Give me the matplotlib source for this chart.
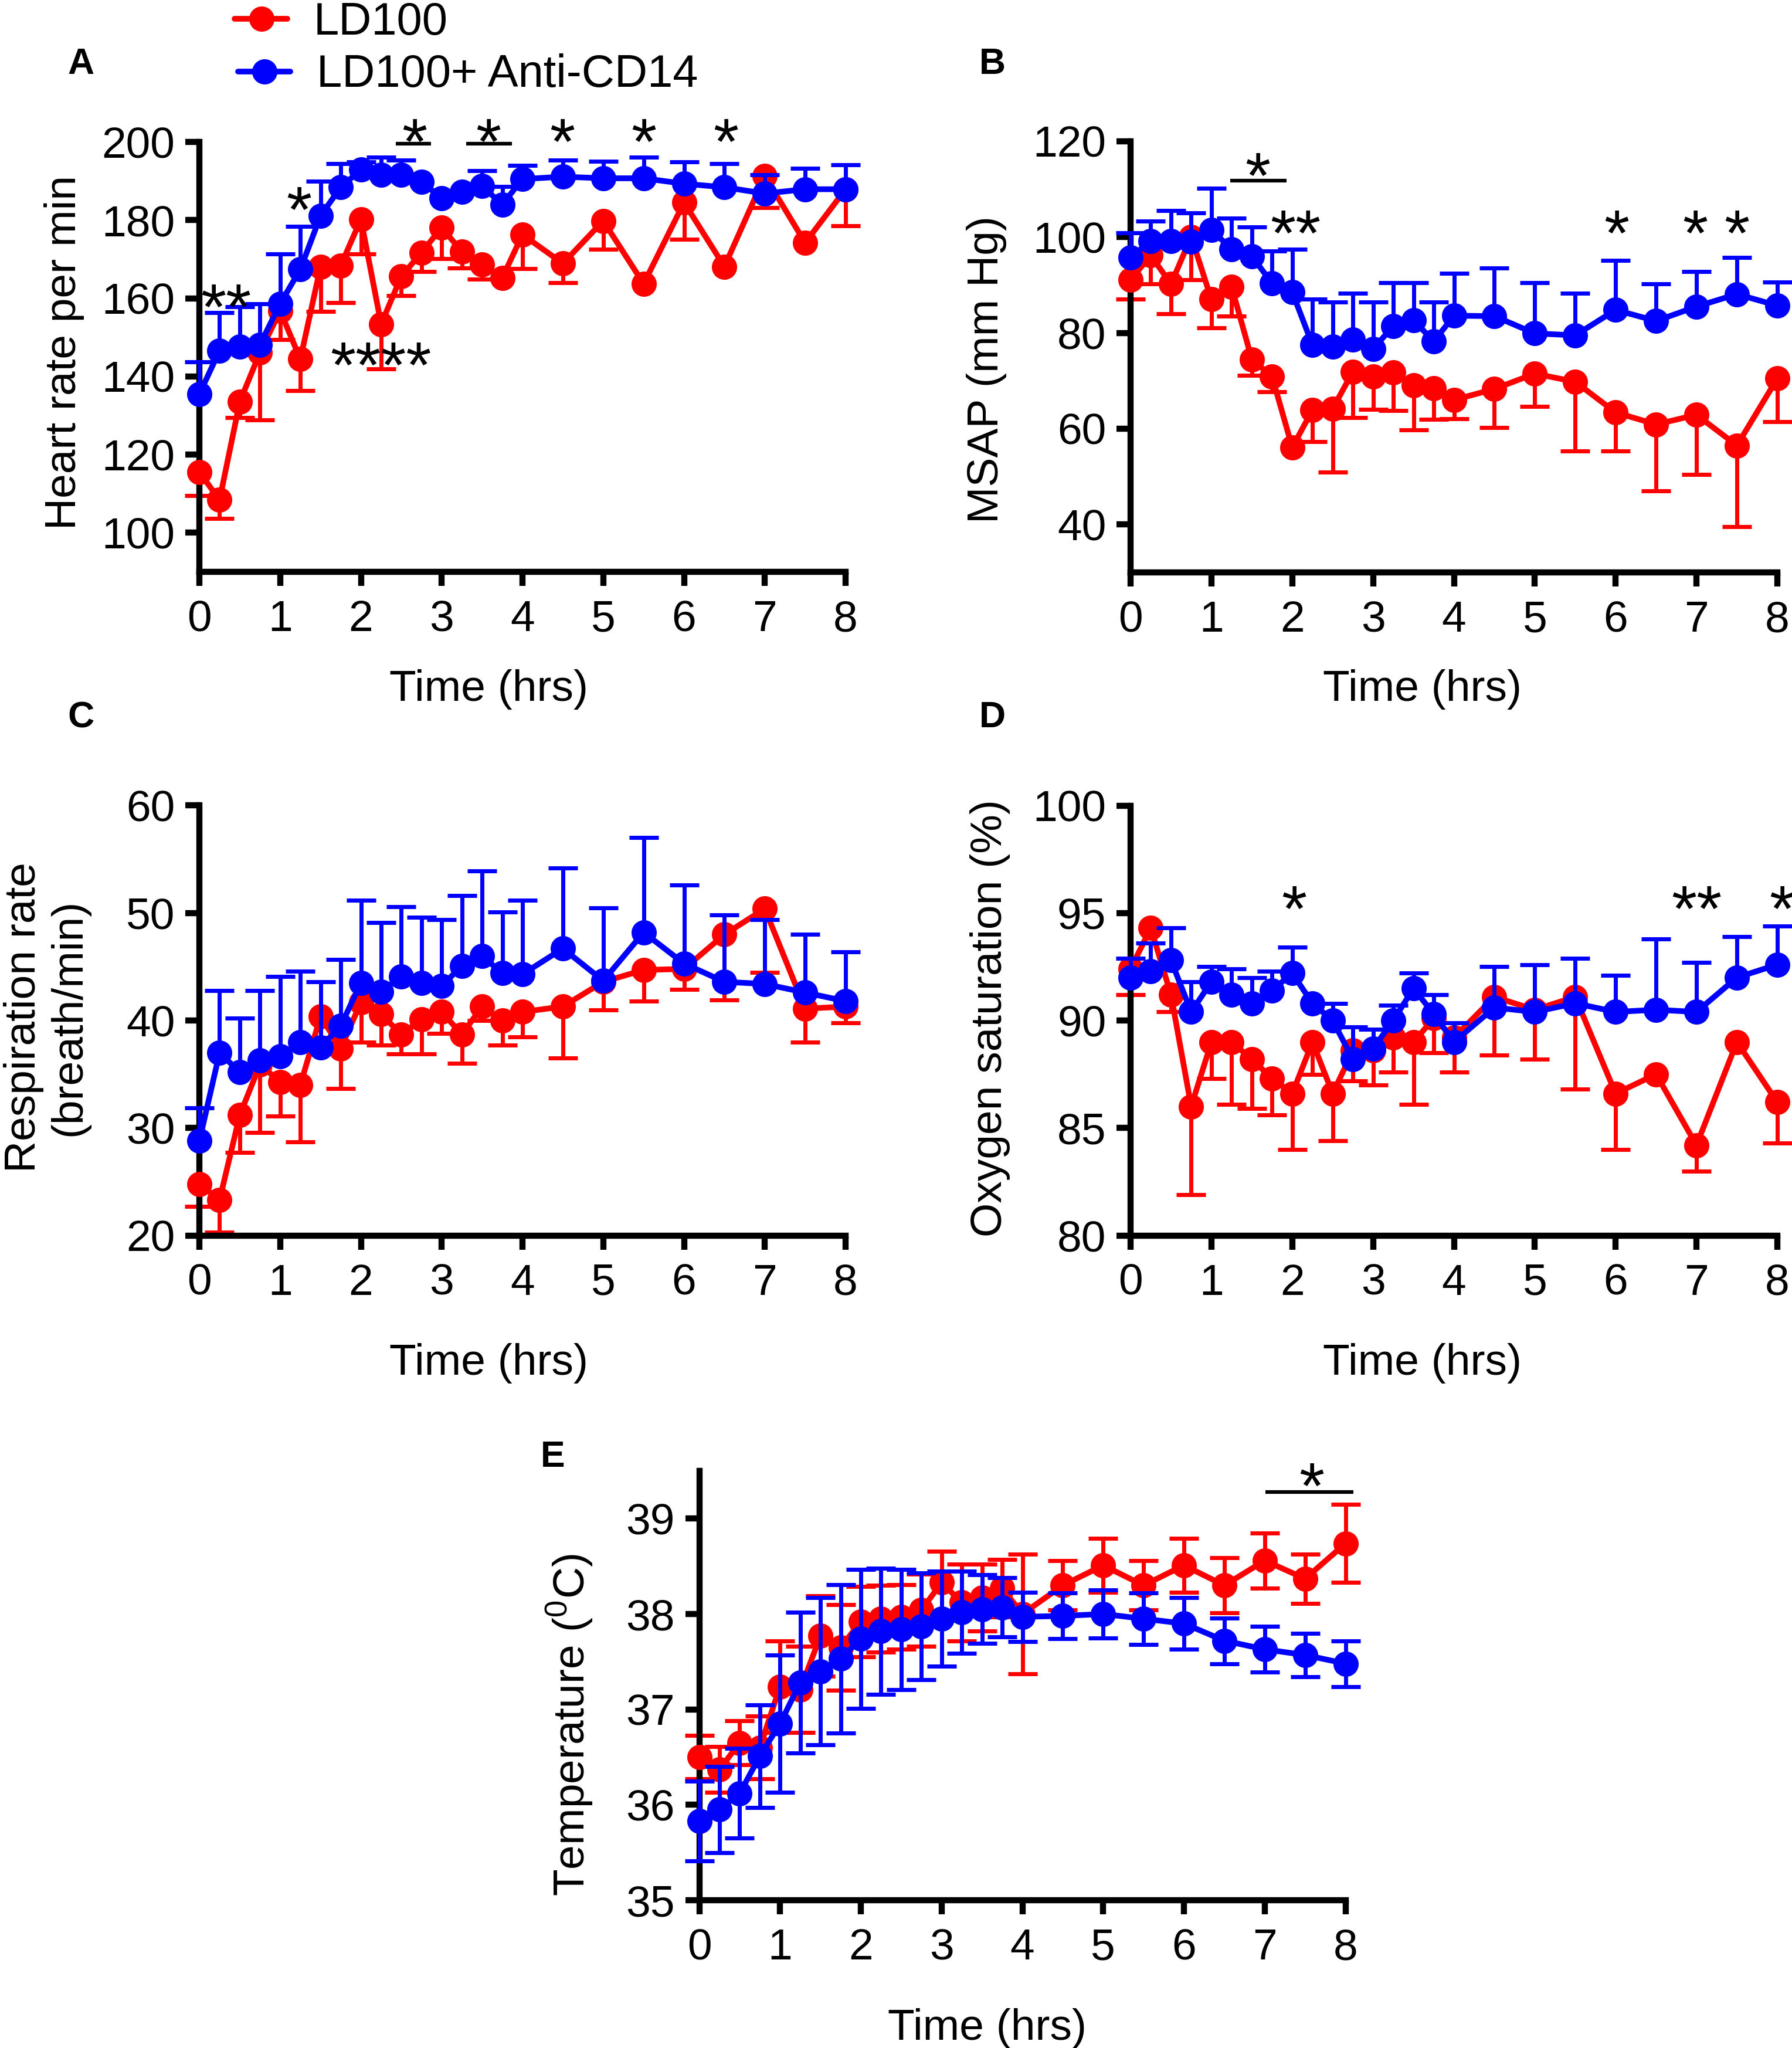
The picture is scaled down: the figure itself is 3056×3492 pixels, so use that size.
import numpy as np
import matplotlib
matplotlib.use("Agg")
import matplotlib.pyplot as plt
from matplotlib.lines import Line2D

plt.rcParams['font.family'] = ['Liberation Sans', 'DejaVu Sans']
plt.rcParams['mathtext.fontset'] = 'custom'
plt.rcParams['mathtext.rm'] = 'Liberation Sans'

# ---------------- data ----------------
time_h = [0, 0.25, 0.5, 0.75, 1, 1.25, 1.5, 1.75, 2, 2.25, 2.5, 2.75, 3, 3.25,
          3.5, 3.75, 4, 4.5, 5, 5.5, 6, 6.5, 7, 7.5, 8]

# A: heart rate per min
hr_ld100 = [115.5, 108.4, 133.5, 146.1, 156.8, 144.4, 168.1, 168.4, 180.2, 153.4, 165.6, 171.7, 178.1,
            171.9, 168.6, 165.2, 176.3, 168.9, 179.8, 163.7, 184.5, 168.1, 191.3, 174.2, 187.9]
hr_ld100_err = [6.0, 4.7, 4.0, 17.2, 7.3, 8.1, 11.5, 9.5, 8.8, 11.5, 4.9, 4.9, 7.9,
                4.2, 3.7, 0.0, 8.7, 4.9, 7.3, 0.0, 9.4, 0.0, 8.1, 0.0, 9.3]
hr_cd14 = [135.5, 146.6, 147.6, 148.1, 158.6, 167.4, 181.1, 188.4, 192.9, 191.6, 191.6, 189.8, 185.6,
           187.2, 188.7, 184.0, 190.5, 191.1, 190.7, 190.7, 189.3, 188.4, 186.8, 187.9, 187.9]
hr_cd14_err = [8.2, 9.7, 10.3, 10.5, 12.7, 11.0, 8.9, 6.0, 2.0, 4.5, 3.7, 0.0, 0.0,
               0.0, 3.9, 4.6, 3.5, 4.2, 4.4, 5.4, 5.6, 6.0, 4.8, 5.3, 6.3]

# B: MSAP (mm Hg)
msap_ld100 = [91.1, 96.2, 90.2, 100.1, 87.0, 89.6, 74.5, 70.9, 56.1, 63.9, 64.2, 71.9, 70.9,
              71.8, 69.0, 68.5, 66.0, 68.3, 71.5, 69.8, 63.4, 60.9, 62.9, 56.5, 70.5]
msap_ld100_err = [4.1, 6.0, 6.2, 9.0, 6.0, 6.1, 3.3, 3.2, 0.0, 6.6, 13.3, 9.6, 6.9,
                  8.0, 9.3, 6.6, 3.9, 8.1, 6.9, 14.5, 8.1, 13.9, 12.4, 16.9, 9.0]
msap_cd14 = [95.8, 99.2, 99.2, 99.0, 101.5, 97.5, 96.0, 90.4, 88.5, 77.5, 77.2, 78.6, 76.7,
             81.4, 82.7, 78.2, 83.6, 83.5, 79.9, 79.5, 84.8, 82.5, 85.5, 88.1, 85.7]
msap_cd14_err = [5.1, 4.1, 6.3, 6.0, 8.7, 6.5, 6.1, 6.7, 9.0, 9.5, 9.2, 9.7, 9.8,
                 9.1, 7.8, 8.2, 8.8, 10.1, 10.6, 8.8, 10.3, 7.7, 7.3, 7.7, 4.9]

# C: respiration rate (breath/min)
resp_ld100 = [24.8, 23.3, 31.2, 35.9, 34.3, 34.0, 40.4, 37.4, 41.7, 40.6, 38.7, 40.1, 40.8,
              38.7, 41.3, 40.0, 40.8, 41.3, 43.6, 44.7, 44.8, 48.0, 50.4, 41.1, 41.3]
resp_ld100_err = [2.1, 3.0, 3.5, 6.3, 3.2, 5.3, 2.0, 3.7, 3.7, 2.9, 1.8, 3.2, 2.0,
                  2.7, 1.3, 2.3, 2.3, 4.8, 2.6, 2.9, 1.9, 6.1, 5.9, 3.1, 1.5]
resp_cd14 = [28.8, 37.0, 35.2, 36.3, 36.7, 38.0, 37.5, 39.5, 43.5, 42.7, 44.1, 43.5, 43.2,
             45.1, 46.0, 44.4, 44.3, 46.7, 43.7, 48.2, 45.3, 43.6, 43.4, 42.6, 41.8]
resp_cd14_err = [3.1, 5.8, 5.0, 6.5, 7.4, 6.6, 6.1, 6.2, 7.7, 6.4, 6.5, 6.1, 6.2,
                 6.5, 7.9, 5.7, 6.9, 7.5, 6.8, 8.8, 7.3, 6.2, 6.0, 5.4, 4.6]

# D: oxygen saturation (%)
o2_ld100 = [92.4, 94.3, 91.2, 86.0, 89.0, 89.0, 88.2, 87.3, 86.6, 89.0, 86.6, 88.6, 88.6,
            89.2, 89.0, 90.1, 89.2, 91.1, 90.5, 91.1, 86.6, 87.5, 84.2, 89.0, 86.2]
o2_ld100_err = [1.2, 0.0, 0.8, 4.1, 1.7, 2.9, 2.3, 1.7, 2.6, 1.5, 2.2, 1.4, 1.6,
                1.6, 2.9, 1.6, 1.6, 2.7, 2.3, 4.3, 2.6, 0.0, 1.2, 0.0, 1.9]
o2_cd14 = [92.0, 92.3, 92.8, 90.4, 91.8, 91.2, 90.8, 91.4, 92.2, 90.8, 90.0, 88.2, 88.7,
           90.0, 91.5, 90.3, 89.0, 90.6, 90.4, 90.8, 90.4, 90.5, 90.4, 92.0, 92.6]
o2_cd14_err = [0.9, 1.3, 1.5, 1.4, 0.7, 1.2, 1.2, 0.9, 1.2, 0.0, 0.8, 1.5, 0.9,
               0.7, 0.7, 0.9, 0.9, 1.9, 2.2, 2.1, 1.7, 3.3, 2.3, 1.9, 1.8]

# E: temperature (C)
temp_ld100 = [36.50, 36.37, 36.65, 36.60, 37.24, 37.21, 37.77, 37.65, 37.92, 37.95, 37.97, 38.04, 38.33,
              38.12, 38.17, 38.27, 38.00, 38.30, 38.51, 38.30, 38.51, 38.30, 38.56, 38.37, 38.74]
temp_ld100_err = [0.23, 0.24, 0.23, 0.33, 0.48, 0.45, 0.42, 0.45, 0.37, 0.35, 0.34, 0.38, 0.33,
                  0.40, 0.35, 0.30, 0.63, 0.26, 0.28, 0.26, 0.28, 0.29, 0.29, 0.26, 0.41]
temp_cd14 = [35.83, 35.95, 36.12, 36.51, 36.85, 37.28, 37.40, 37.53, 37.74, 37.82, 37.84, 37.87, 37.95,
             38.02, 38.05, 38.07, 37.97, 37.98, 38.00, 37.95, 37.90, 37.72, 37.63, 37.57, 37.48]
temp_cd14_err = [0.42, 0.45, 0.47, 0.54, 0.72, 0.74, 0.77, 0.78, 0.73, 0.66, 0.63, 0.56, 0.50,
                 0.43, 0.36, 0.31, 0.26, 0.24, 0.25, 0.27, 0.27, 0.24, 0.24, 0.23, 0.24]

series_labels = ['LD100', 'LD100+ Anti-CD14']
x_ticks = [0, 1, 2, 3, 4, 5, 6, 7, 8]

# significance annotations: (time, value, text)
sig_A = [(0.33, 161.6, '**'), (1.23, 186.5, '*'), (2.25, 146.7, '****'), (2.66, 203.9, '*'),
         (3.58, 203.9, '*'), (4.49, 203.9, '*'), (5.5, 203.9, '*'), (6.52, 203.9, '*')]
bars_A = [(2.43, 2.87, 199.5), (3.3, 3.87, 199.5)]
sig_B = [(1.57, 116.0, '*'), (2.04, 104.0, '**'), (6.01, 104.0, '*'), (6.98, 104.0, '*'), (7.5, 104.0, '*')]
bars_B = [(1.23, 1.93, 111.8)]
sig_D = [(2.02, 95.9, '*'), (7.0, 95.9, '**'), (8.06, 95.9, '*')]
sig_E = [(7.58, 39.5, '*')]
bars_E = [(7.01, 8.1, 39.28)]

# ---------------- style ----------------
RED = '#FF0000'
BLUE = '#0000FF'
W, H = 3056, 3492
DPI = 100
LW = 7          # data line width (pt)
MS = 31         # marker size (pt)
EW = 5          # error bar width (pt)
CAP = 36        # cap length (pt)
SPW = 7.5       # spine width
FS_TICK = 54
FS_LAB = 54
FS_STAR = 80
FS_LET = 45

fig = plt.figure(figsize=(W / DPI, H / DPI), dpi=DPI)


def fx(px):
    return px / W


def fy(py):
    return 1 - py / H


def make_ax(x0, x1, ytop, ybot, ylim, yticks):
    ax = fig.add_axes([fx(x0), fy(ybot), (x1 - x0) / W, (ybot - ytop) / H])
    ax.set_xlim(0, 8)
    ax.set_ylim(*ylim)
    ax.set_xticks(x_ticks)
    ax.set_yticks(yticks)
    for s in ['top', 'right']:
        ax.spines[s].set_visible(False)
    for s in ['left', 'bottom']:
        ax.spines[s].set_linewidth(SPW)
    ax.tick_params(direction='out', length=17, width=SPW, labelsize=FS_TICK, pad=13)
    ax.tick_params(axis='x', pad=17)
    ax.patch.set_alpha(0)
    return ax


def errs(ax, t, y, err, color, mode, z):
    t = np.asarray(t, float)
    y = np.asarray(y, float)
    e = np.asarray(err, float)
    if mode == 'down':
        lo, hi = y - e, y
        ends = [lo]
    elif mode == 'up':
        lo, hi = y, y + e
        ends = [hi]
    else:
        lo, hi = y - e, y + e
        ends = [lo, hi]
    m = e > 0
    ax.vlines(t[m], lo[m], hi[m], colors=color, lw=EW, zorder=z, clip_on=False)
    for end in ends:
        ax.plot(t[m], end[m], ls='none', marker='_', ms=CAP, mew=EW, color=color,
                zorder=z, clip_on=False)


def series(ax, t, y, color, z):
    ax.plot(t, y, '-', color=color, lw=LW, marker='o', ms=MS, mew=0, mfc=color,
            zorder=z, clip_on=False, solid_joinstyle='round')


def panel(ax, red, red_err, blue, blue_err, both=False):
    errs(ax, time_h, red, red_err, RED, 'both' if both else 'down', 2)
    series(ax, time_h, red, RED, 3)
    errs(ax, time_h, blue, blue_err, BLUE, 'both' if both else 'up', 4)
    series(ax, time_h, blue, BLUE, 5)


def stars(ax, items):
    for x, y, s in items:
        ax.annotate(s, xy=(x, y), xytext=(0, -0.575 * FS_STAR), textcoords='offset points',
                    ha='center', va='baseline', fontsize=FS_STAR, annotation_clip=False, zorder=6)


def bars(ax, items):
    for x0, x1, y in items:
        ax.plot([x0, x1], [y, y], color='k', lw=4.5, clip_on=False, solid_capstyle='butt', zorder=6)


# Panel A
axA = make_ax(340, 1442, 242, 975, (90, 200), [100, 120, 140, 160, 180, 200])
panel(axA, hr_ld100, hr_ld100_err, hr_cd14, hr_cd14_err)
stars(axA, sig_A)
bars(axA, bars_A)

# Panel B
axB = make_ax(1928, 3031, 241, 976, (30, 120), [40, 60, 80, 100, 120])
panel(axB, msap_ld100, msap_ld100_err, msap_cd14, msap_cd14_err)
stars(axB, sig_B)
bars(axB, bars_B)

# Panel C
axC = make_ax(340, 1442, 1373.5, 2106.6, (20, 60), [20, 30, 40, 50, 60])
panel(axC, resp_ld100, resp_ld100_err, resp_cd14, resp_cd14_err)

# Panel D
axD = make_ax(1928, 3031, 1373.5, 2106.6, (80, 100), [80, 85, 90, 95, 100])
panel(axD, o2_ld100, o2_ld100_err, o2_cd14, o2_cd14_err)
stars(axD, sig_D)

# Panel E
axE = make_ax(1192.5, 2294.6, 2508, 3240, (35, 39.5), [35, 36, 37, 38, 39])
panel(axE, temp_ld100, temp_ld100_err, temp_cd14, temp_cd14_err, both=True)
stars(axE, sig_E)
bars(axE, bars_E)

# panel letters
for (px, py, s) in [(115, 126, 'A'), (1670, 126, 'B'), (115, 1240, 'C'), (1670, 1240, 'D'), (922, 2501, 'E')]:
    fig.text(fx(px), fy(py), s, fontsize=FS_LET, fontweight='bold', ha='left', va='baseline')

# x labels
for (px, py) in [(834, 1141), (2425, 1141), (834, 2290), (2425, 2290), (1684, 3424)]:
    fig.text(fx(px), fy(py), 'Time (hrs)', fontsize=FS_LAB, ha='center', va='top')

# y labels
fig.text(fx(110), fy(601), 'Heart rate per min', fontsize=FS_LAB, rotation=90, ha='center', va='center')
fig.text(fx(1683), fy(630), 'MSAP (mm Hg)', fontsize=FS_LAB, rotation=90, ha='center', va='center')
fig.text(fx(79), fy(1735), 'Respiration rate\n(breath/min)', fontsize=FS_LAB, rotation=90,
         ha='center', va='center', multialignment='center', linespacing=1.15)
fig.text(fx(1688), fy(1736), 'Oxygen saturation (%)', fontsize=FS_LAB, rotation=90, ha='center', va='center')
fig.text(fx(972), fy(2941), r'Temperature ($^{\mathrm{0}}$C)', fontsize=FS_LAB, rotation=90,
         ha='center', va='center')

# legend (drawn at the top-left of the figure)
for (x0, x1, xm, yc, tx, tb, col, lab) in [(400, 490, 446, 32, 535, 59, RED, series_labels[0]),
                                            (406, 495, 451, 122, 540, 148, BLUE, series_labels[1])]:
    fig.add_artist(Line2D([fx(x0), fx(x1)], [fy(yc), fy(yc)], color=col, lw=LW,
                          solid_capstyle='round', transform=fig.transFigure))
    fig.add_artist(Line2D([fx(xm)], [fy(yc)], color=col, marker='o', ms=MS, mew=0,
                          ls='none', transform=fig.transFigure))
    fig.text(fx(tx), fy(tb), lab, fontsize=56, ha='left', va='baseline')

fig.savefig('out.png', dpi=DPI)
